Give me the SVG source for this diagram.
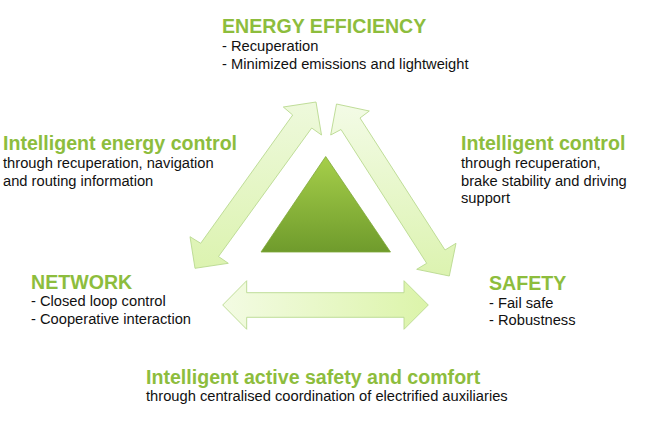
<svg xmlns="http://www.w3.org/2000/svg" width="650" height="443" viewBox="0 0 650 443">
<defs>
<linearGradient id="gTri" x1="0" y1="0" x2="0" y2="1">
<stop offset="0" stop-color="#a6cf4a"/>
<stop offset="1" stop-color="#6f9b2c"/>
</linearGradient>
<linearGradient id="gH" x1="0" y1="0" x2="1" y2="0">
<stop offset="0" stop-color="#f3fbe3"/>
<stop offset="1" stop-color="#dcf4aa"/>
</linearGradient>
<linearGradient id="gL" x1="0" y1="0" x2="0" y2="1">
<stop offset="0" stop-color="#eef9dc"/>
<stop offset="1" stop-color="#dcf3b0"/>
</linearGradient>
<linearGradient id="gR" x1="0" y1="0" x2="0" y2="1">
<stop offset="0" stop-color="#f3fbe6"/>
<stop offset="1" stop-color="#dcf3b0"/>
</linearGradient>
</defs>
<style>
.arrow{stroke:#b9d98e;stroke-width:0.9;stroke-linejoin:miter}
.title{font-family:"Liberation Sans",Arial,sans-serif;font-weight:bold;font-size:19.6px;fill:#8dbd3d}
.body{font-family:"Liberation Sans",Arial,sans-serif;font-size:14.7px;fill:#111}
</style>
<rect width="650" height="443" fill="#ffffff"/>
<g id="connectors">
<polygon class="arrow" fill="url(#gL)" points="316,102 321.5,135 311.7,128 218.5,256.5 228.3,263.3 195,268.3 190,236.7 200.7,243.3 292.7,115 283.3,107"/>
<polygon class="arrow" fill="url(#gR)" points="336.5,104 369.3,111 360,118 445,250 456,243.3 449.3,276 416.7,269.3 426.7,263.3 341,129.5 330.7,135"/>
<polygon class="arrow" fill="url(#gH)" points="222.7,305 246.7,280.7 246.7,292.7 404,292.7 404,280.7 428.3,305 404,329.3 404,317.3 246.7,317.3 246.7,329.3"/>
</g>
<g id="center">
<polygon points="325.7,156.5 390.5,252 261,252" fill="url(#gTri)" stroke="#7fa838" stroke-width="0.8"/>
</g>
<g id="energy-efficiency">
<text class="title" x="222" y="33">ENERGY EFFICIENCY</text>
<text class="body" x="222" y="50.5">- Recuperation</text>
<text class="body" x="222" y="68.5">- Minimized emissions and lightweight</text>
</g>
<g id="intelligent-energy-control">
<text class="title" x="3" y="150">Intelligent energy control</text>
<text class="body" x="3" y="167.5">through recuperation, navigation</text>
<text class="body" x="3" y="185.5">and routing information</text>
</g>
<g id="intelligent-control">
<text class="title" x="461" y="150">Intelligent control</text>
<text class="body" x="461" y="167.5">through recuperation,</text>
<text class="body" x="461" y="185.5">brake stability and driving</text>
<text class="body" x="461" y="203">support</text>
</g>
<g id="network">
<text class="title" x="31" y="289">NETWORK</text>
<text class="body" x="31" y="306">- Closed loop control</text>
<text class="body" x="31" y="324">- Cooperative interaction</text>
</g>
<g id="safety">
<text class="title" x="489" y="290">SAFETY</text>
<text class="body" x="489" y="307.5">- Fail safe</text>
<text class="body" x="489" y="325">- Robustness</text>
</g>
<g id="active-safety">
<text class="title" x="146" y="383.5">Intelligent active safety and comfort</text>
<text class="body" x="146" y="401">through centralised coordination of electrified auxiliaries</text>
</g>
</svg>
